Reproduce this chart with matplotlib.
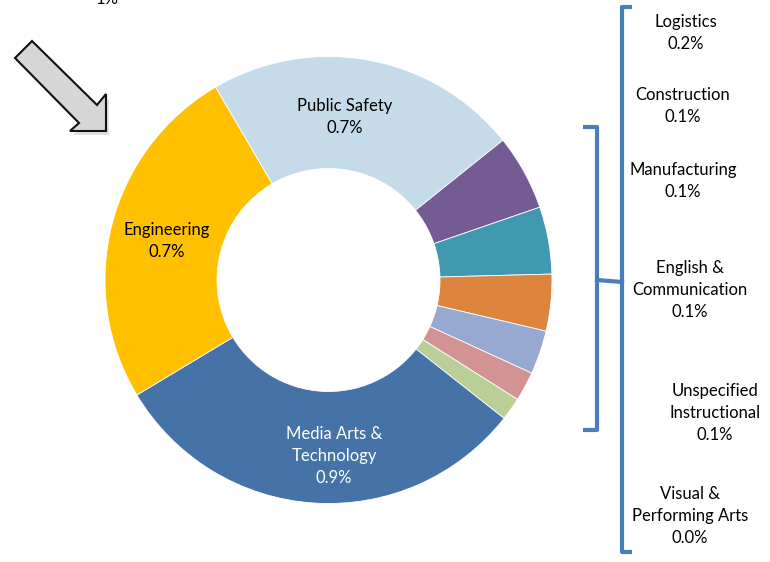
import matplotlib
matplotlib.use("Agg")
import matplotlib.pyplot as plt
from matplotlib.patches import Polygon

# ---- data ----
categories = ["Engineering", "Public Safety", "Logistics", "Construction",
              "Manufacturing", "English & Communication", "Unspecified Instructional",
              "Visual & Performing Arts", "Media Arts & Technology"]
values = [0.700, 0.630, 0.152, 0.135, 0.114, 0.088, 0.059, 0.046, 0.855]
colors = ["#FFC000", "#C6DBEA", "#745B93", "#4199B0", "#DD843F",
          "#95A9D1", "#D39392", "#BACF98", "#4572A7"]

inside_labels = ["Engineering\n0.7%", "Public Safety\n0.7%", "Media Arts &\nTechnology\n0.9%"]
side_labels = ["Logistics\n0.2%", "Construction\n0.1%", "Manufacturing\n0.1%",
               "English &\nCommunication\n0.1%", "Unspecified\nInstructional\n0.1%",
               "Visual &\nPerforming Arts\n0.0%"]

FONT = "Lato"
W, H = 770, 562
fig = plt.figure(figsize=(W / 100, H / 100), dpi=100)
ax = fig.add_axes([0, 0, 1, 1])

def Y(py):
    return H - py

cx, cy, R = 328.5, Y(280), 223.5
ax.pie(values, colors=colors, startangle=211, counterclock=False,
       center=(cx, cy), radius=R, frame=True,
       wedgeprops=dict(width=112, edgecolor="white", linewidth=0.6))
ax.set_xlim(0, W)
ax.set_ylim(0, H)
ax.set_aspect("equal")
ax.axis("off")

fs = 12
ls = 1.45
ax.text(345, Y(117), inside_labels[1], ha="center", va="center", fontsize=fs,
        family=FONT, color="black", linespacing=ls)
ax.text(167, Y(241), inside_labels[0], ha="center", va="center", fontsize=fs,
        family=FONT, color="black", linespacing=ls)
ax.text(334, Y(456), inside_labels[2], ha="center", va="center", fontsize=fs,
        family=FONT, color="white", linespacing=ls)

side_pos = [(686, 33), (683, 106), (683, 181), (690, 290), (715, 413), (690, 516)]
for lab, (px, py) in zip(side_labels, side_pos):
    ax.text(px, Y(py), lab, ha="center", va="center", fontsize=fs,
            family=FONT, color="black", linespacing=ls)

# label cut by the top edge, as in the reference
ax.text(107, Y(-1), "1%", ha="center", va="center", fontsize=fs, family=FONT, color="black")

# brackets
bc = "#4A7EBB"
lw = 3.0
ax.plot([632, 622, 622, 632], [Y(7), Y(7), Y(552), Y(552)], color=bc, lw=lw,
        solid_joinstyle="round", solid_capstyle="butt")
ax.plot([583, 597, 597, 583], [Y(127), Y(127), Y(430), Y(430)], color=bc, lw=lw,
        solid_joinstyle="round", solid_capstyle="butt")
ax.plot([597, 622], [Y(280), Y(282)], color=bc, lw=lw)

# arrow
arrow_px = [(15, 58), (32, 41), (97, 105), (106, 94), (106, 131), (70, 131), (79, 123)]
shadow = Polygon([(x + 3, Y(y + 4)) for x, y in arrow_px], closed=True,
                 facecolor="#000000", alpha=0.12, edgecolor="none")
ax.add_patch(shadow)
arrow = Polygon([(x, Y(y)) for x, y in arrow_px], closed=True,
                facecolor="#D6D6D6", edgecolor="#111111", linewidth=1.5)
ax.add_patch(arrow)

fig.savefig("out.png", dpi=100)
